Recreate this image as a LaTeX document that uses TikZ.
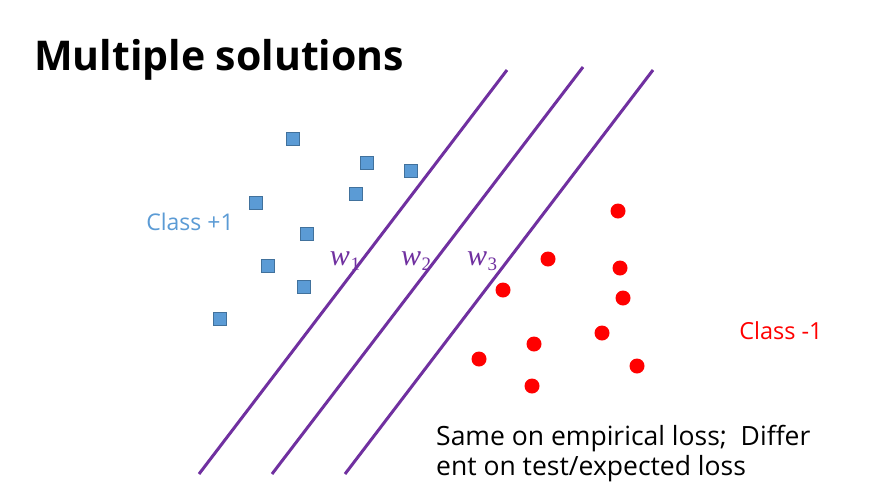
\documentclass[tikz,border=0pt]{standalone}
\usepackage{fontspec}
\setmainfont{Open Sans}
\newfontfamily\wfont{Liberation Serif}
\usetikzlibrary{positioning}
\definecolor{sqfill}{HTML}{5B9BD5}
\definecolor{sqedge}{HTML}{41719C}
\definecolor{hyper}{HTML}{7030A0}
\definecolor{ptred}{HTML}{FF0000}
\tikzset{
  sq/.style={rectangle, fill=sqfill, draw=sqedge, line width=0.8pt, minimum size=13pt, inner sep=0pt},
  dot/.style={circle, fill=ptred, minimum size=15pt, inner sep=0pt},
  hyp/.style={draw=hyper, line width=3pt},
  wlab/.style={text=hyper, inner sep=0pt, anchor=base},
}
\newcommand{\wl}[1]{{\wfont\fontsize{30}{32}\selectfont\itshape w}\kern0.5pt\raisebox{-5pt}{\wfont\fontsize{19}{21}\selectfont #1}}
\begin{document}
\begin{tikzpicture}[x=1pt,y=-1pt]
\useasboundingbox[fill=white] (0,0) rectangle (878,491);
\node[anchor=base west, inner sep=0pt, font=\fontsize{41}{48}\selectfont\bfseries] (title) at (34,70) {Multiple solutions};
% hyperplanes
\coordinate (l1a) at (199,474); \coordinate (l1b) at (507,70);
\coordinate (l2a) at (272,474); \coordinate (l2b) at (583,67);
\coordinate (l3a) at (345,474); \coordinate (l3b) at (653,70);
\draw[hyp] (l1a) -- (l1b);
\draw[hyp] (l2a) -- (l2b);
\draw[hyp] (l3a) -- (l3b);
\node[wlab] (w1) at (345,265) {\wl{1}};
\node[wlab] (w2) at (416,265) {\wl{2}};
\node[wlab] (w3) at (482,265) {\wl{3}};
% class +1
\foreach \n/\x/\y in {a/293/139, b/367/163, c/411/171, d/356/194, e/256/203, f/307/234, g/268/266, h/304/287, i/220/319}
  \node[sq] (s\n) at (\x,\y) {};
% class -1
\foreach \n/\x/\y in {a/618/211, b/548/259, c/620/268, d/503/290, e/623/298, f/602/333, g/534/344, h/479/359, i/637/366, j/532/386}
  \node[dot] (c\n) at (\x,\y) {};
\node[text=sqfill, font=\fontsize{23}{27}\selectfont, inner sep=0pt] (cp) at (190,222) {Class +1};
\node[text=ptred, font=\fontsize{23.5}{27}\selectfont, inner sep=0pt] (cm) at (781,331) {Class -1};
\node[anchor=base west, inner sep=0pt, align=left, font=\fontsize{26.5}{30}\selectfont] (note) at (436,475) {Same on empirical loss;\ \ Differ\\ent on test/expected loss};
\end{tikzpicture}
\end{document}
